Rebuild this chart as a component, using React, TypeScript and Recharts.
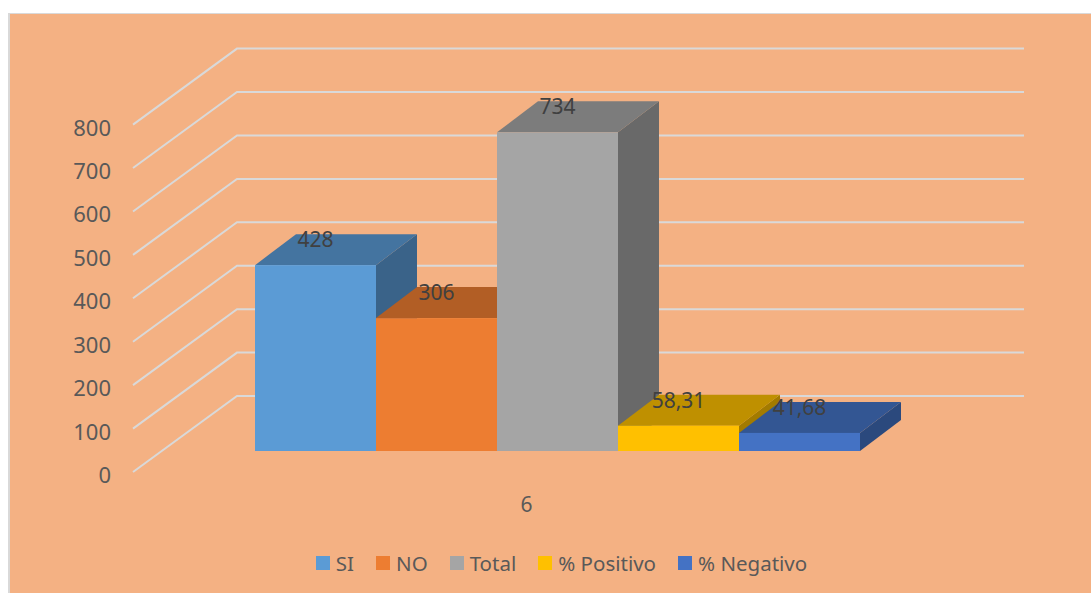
import { BarChart, Bar, XAxis, YAxis, CartesianGrid, Legend, LabelList } from 'recharts';

const categories = ['6'];
const seriesNames = ['SI', 'NO', 'Total', '% Positivo', '% Negativo'];
const seriesValues = [[428], [306], [734], [58.31], [41.68]];
const valueLabels = ['428', '306', '734', '58,31', '41,68'];
const yTicks = [0, 100, 200, 300, 400, 500, 600, 700, 800];

const FRONT_COLORS = ['#5B9BD5', '#ED7D31', '#A5A5A5', '#FFC000', '#4472C4'];
const TOP_COLORS = ['#4474A0', '#B25E25', '#7C7C7C', '#BF9000', '#335693'];
const SIDE_COLORS = ['#3A6389', '#985020', '#696969', '#A37B00', '#2B497D'];

const FONT = '"Noto Sans", sans-serif';
const GRID_COLOR = '#D9D9D9';

// fake 3D: how far the back of a bar sits from its front
const DEPTH_X = 41;
const DEPTH_Y = 31;

// wall and floor lines relative to the plane the bars stand on
const WALL_FRONT_X = 133;
const WALL_BACK_X = 237;
const WALL_RIGHT_X = 1024;
const FRONT_DY = 21;
const BACK_DY = 55;

const chartData = categories.map((category, i) => {
  const row: Record<string, string | number> = { category };
  seriesNames.forEach((name, s) => {
    row[name] = seriesValues[s][i];
  });
  return row;
});

const makeBox = (s: number) => (props: any) => {
  const { x, y, width, height } = props;
  const right = x + width;
  const bottom = y + height;
  return (
    <g>
      <polygon
        points={`${right},${y} ${right + DEPTH_X},${y - DEPTH_Y} ${right + DEPTH_X},${bottom - DEPTH_Y} ${right},${bottom}`}
        fill={SIDE_COLORS[s]}
      />
      <polygon
        points={`${x},${y} ${x + DEPTH_X},${y - DEPTH_Y} ${right + DEPTH_X},${y - DEPTH_Y} ${right},${y}`}
        fill={TOP_COLORS[s]}
      />
      <rect x={x} y={y} width={width} height={height} fill={FRONT_COLORS[s]} />
    </g>
  );
};

const makeValueLabel = (s: number) => (props: any) => {
  const { x, y, width } = props;
  return (
    <text
      x={x + width / 2}
      y={y - 26}
      textAnchor="middle"
      dominantBaseline="central"
      fontFamily={FONT}
      fontSize={21}
      fill="#404040"
    >
      {valueLabels[s]}
    </text>
  );
};

const WallLine = (props: any) => {
  const y = props.y1;
  return (
    <polyline
      key={props.key}
      points={`${WALL_FRONT_X},${y + FRONT_DY} ${WALL_BACK_X},${y - BACK_DY} ${WALL_RIGHT_X},${y - BACK_DY}`}
      fill="none"
      stroke={GRID_COLOR}
      strokeWidth={2}
    />
  );
};

const YTick = (props: any) => (
  <text
    x={111}
    y={props.y + FRONT_DY + 2}
    textAnchor="end"
    dominantBaseline="central"
    fontFamily={FONT}
    fontSize={22}
    fill="#595959"
  >
    {props.payload.value}
  </text>
);

const XTick = (props: any) => (
  <text
    x={props.x - 31}
    y={504}
    textAnchor="middle"
    dominantBaseline="central"
    fontFamily={FONT}
    fontSize={21}
    fill="#595959"
  >
    {props.payload.value}
  </text>
);

const LegendRow = (props: any) => (
  <div style={{ display: 'flex', justifyContent: 'center', gap: 22, paddingLeft: 32 }}>
    {props.payload.map((entry: any) => (
      <div key={entry.value} style={{ display: 'flex', alignItems: 'center', gap: 6 }}>
        <span style={{ width: 14, height: 14, background: entry.color, display: 'inline-block' }} />
        <span style={{ fontFamily: FONT, fontSize: 20.5, color: '#595959', lineHeight: '26px' }}>
          {entry.value}
        </span>
      </div>
    ))}
  </div>
);

export default function App() {
  return (
    <div style={{ position: 'absolute', left: 0, top: 0, width: 1091, height: 593, background: '#fff' }}>
      <div
        style={{
          position: 'absolute',
          left: 8,
          top: 13,
          width: 1081,
          height: 580,
          background: '#F4B183',
          borderLeft: '2px solid #D9D9D9',
          borderTop: '1px solid #D9D9D9',
        }}
      />
      <div style={{ position: 'absolute', left: 0, top: 0 }}>
        <BarChart
          width={1091}
          height={593}
          data={chartData}
          margin={{ top: 103.6, right: 140, bottom: 82, left: 64 }}
          barCategoryGap={91}
          barGap={0}
        >
          <CartesianGrid vertical={false} horizontal={WallLine} />
          <XAxis
            dataKey="category"
            height={60}
            axisLine={false}
            tickLine={false}
            tick={XTick}
          />
          <YAxis
            width={100}
            domain={[0, 800]}
            ticks={yTicks}
            interval={0}
            axisLine={false}
            tickLine={false}
            tick={YTick}
          />
          <Legend
            layout="horizontal"
            verticalAlign="middle"
            align="center"
            itemSorter={null}
            wrapperStyle={{ left: 0, top: 550, bottom: 'auto', width: 1091 }}
            content={LegendRow}
          />
          {seriesNames.map((name, s) => (
            <Bar
              key={name}
              dataKey={name}
              fill={FRONT_COLORS[s]}
              shape={makeBox(s)}
              isAnimationActive={false}
            >
              <LabelList dataKey={name} content={makeValueLabel(s)} />
            </Bar>
          ))}
        </BarChart>
      </div>
    </div>
  );
}
